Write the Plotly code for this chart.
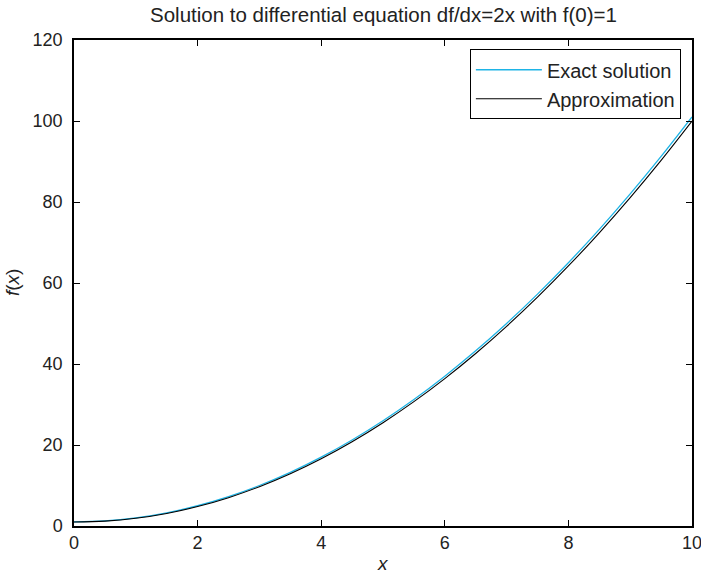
import plotly.graph_objects as go

x_vals = [0, 0.5, 1, 1.5, 2, 2.5, 3, 3.5, 4, 4.5, 5, 5.5, 6, 6.5, 7, 7.5, 8, 8.5, 9, 9.5, 10]
exact_vals = [1, 1.25, 2, 3.25, 5, 7.25, 10, 13.25, 17, 21.25, 26, 31.25, 37, 43.25, 50,
              57.25, 65, 73.25, 82, 91.25, 101]
approx_vals = [1, 1.2, 1.9, 3.1, 4.8, 7.0, 9.7, 12.9, 16.6, 20.8, 25.5, 30.7, 36.4, 42.6,
               49.3, 56.5, 64.2, 72.4, 81.1, 90.3, 100]
x_ticks = [0, 2, 4, 6, 8, 10]
y_ticks = [0, 20, 40, 60, 80, 100, 120]

FONT = "Liberation Sans, Arial, Helvetica, sans-serif"
TXT = "#222222"

fig = go.Figure()
fig.add_trace(go.Scatter(x=x_vals, y=exact_vals, mode="lines", name="Exact solution",
                         line=dict(color="#1eb4e6", width=1.3, shape="spline")))
fig.add_trace(go.Scatter(x=x_vals, y=approx_vals, mode="lines", name="Approximation",
                         line=dict(color="black", width=1.1, shape="spline")))

axis_common = dict(showgrid=False, zeroline=False, showline=True, linecolor="black",
                   linewidth=1.5, mirror="ticks", ticks="inside", ticklen=6,
                   tickcolor="black", tickwidth=1, automargin=False,
                   ticklabeloverflow="allow",
                   tickfont=dict(family=FONT, size=18, color=TXT))

fig.update_layout(
    width=701, height=573,
    margin=dict(l=74, r=9, t=40, b=47),
    paper_bgcolor="white", plot_bgcolor="white",
    xaxis=dict(range=[0, 10], tickvals=x_ticks, **axis_common),
    yaxis=dict(range=[0, 120], tickvals=y_ticks, ticklabelstandoff=6, **axis_common),
    legend=dict(x=0.982, y=0.981, xanchor="right", yanchor="top",
                bgcolor="white", bordercolor="black", borderwidth=1,
                font=dict(family=FONT, size=20, color=TXT),
                tracegroupgap=0, itemwidth=66),
    showlegend=True,
    annotations=[
        dict(text="Solution to differential equation df/dx=2x with f(0)=1",
             xref="paper", yref="paper", x=0.5, y=1, yshift=26, xanchor="center", yanchor="middle",
             showarrow=False, font=dict(family=FONT, size=20.5, color=TXT)),
        dict(text="<i>x</i>", xref="paper", yref="paper", x=0.5, y=0, yshift=-37,
             xanchor="center", yanchor="middle", showarrow=False,
             font=dict(family=FONT, size=19, color=TXT)),
        dict(text="<i>f</i>(<i>x</i>)", xref="paper", yref="paper", x=0, y=0.5, xshift=-62,
             yshift=0, xanchor="center", yanchor="middle", textangle=-90, showarrow=False,
             font=dict(family=FONT, size=19, color=TXT)),
    ],
)

fig.write_html("out.html", config={"displayModeBar": False},
               post_script="document.body.style.margin='0px';")
